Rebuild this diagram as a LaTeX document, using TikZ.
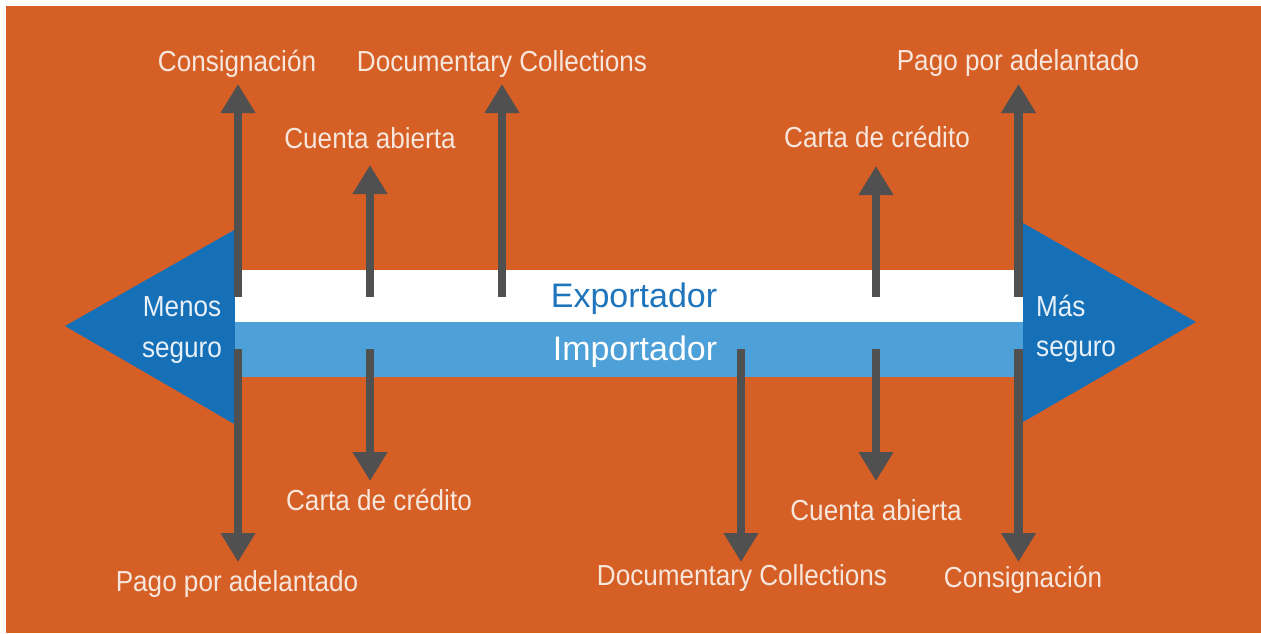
\documentclass[tikz,border=0pt]{standalone}
\usepackage{fontspec}
\setmainfont{Liberation Sans}
\newfontfamily\condfont[FakeStretch=0.9]{Liberation Sans}
\usetikzlibrary{arrows.meta}
\definecolor{bgorange}{HTML}{D65F26}
\definecolor{darkblue}{HTML}{1570B8}
\definecolor{lightblue}{HTML}{4EA0D8}
\definecolor{arrowgrey}{HTML}{505050}
\definecolor{labeltext}{HTML}{F7E6DC}
\definecolor{sidetext}{HTML}{E8F0F8}
\definecolor{exptext}{HTML}{1F75BC}
\begin{document}
\begin{tikzpicture}[x=1pt,y=-1pt,
  lbl/.style={text=labeltext, font=\condfont\fontsize{29}{34}\selectfont, inner sep=0pt, anchor=base},
  sidelbl/.style={text=sidetext, font=\condfont\fontsize{29}{34}\selectfont, inner sep=0pt, anchor=base},
  barlbl/.style={font=\fontsize{34}{40}\selectfont, inner sep=0pt, anchor=base},
  arr/.style={draw=arrowgrey, line width=8.5pt, -{Triangle[width=33pt,length=29pt]}},
  bar/.style={draw=none, minimum width=788pt, inner sep=0pt, outer sep=0pt}
]
\useasboundingbox (0,0) rectangle (1261,633);
\fill[white] (0,0) rectangle (1261,633);
\fill[bgorange] (6,6) rectangle (1261,633);

% side triangles
\fill[darkblue] (65,326) -- (236,229) -- (236,425) -- cycle;
\fill[darkblue] (1023,223) -- (1196,322) -- (1023,422) -- cycle;

% bars
\node[bar, fill=white, minimum height=52pt] (expbar) at (629,296) {};
\node[bar, fill=lightblue, minimum height=55pt] (impbar) at (629,349.5) {};
\node[barlbl, text=exptext] (exp) at (634,307) {Exportador};
\node[barlbl, text=white] (imp) at (635,360) {Importador};

% side labels
\node[sidelbl] (menos) at (182,316) {Menos};
\node[sidelbl] (seg1) at (182,357) {seguro};
\node[sidelbl, anchor=base west] (mas) at (1036,316) {Más};
\node[sidelbl, anchor=base west] (seg2) at (1036,356) {seguro};

% arrow endpoints (top)
\coordinate (t1s) at (238,297);   \coordinate (t1e) at (238,84);
\coordinate (t2s) at (370,297);   \coordinate (t2e) at (370,165);
\coordinate (t3s) at (502,297);   \coordinate (t3e) at (502,84);
\coordinate (t4s) at (876,297);   \coordinate (t4e) at (876,166);
\coordinate (t5s) at (1018.5,297); \coordinate (t5e) at (1018.5,84);
% arrow endpoints (bottom)
\coordinate (b1s) at (238,349);   \coordinate (b1e) at (238,562);
\coordinate (b2s) at (370,349);   \coordinate (b2e) at (370,481);
\coordinate (b3s) at (741,349);   \coordinate (b3e) at (741,562);
\coordinate (b4s) at (876,349);   \coordinate (b4e) at (876,481);
\coordinate (b5s) at (1018.5,349); \coordinate (b5e) at (1018.5,562);

\foreach \a in {t1,t2,t3,t4,t5,b1,b2,b3,b4,b5}
  \draw[arr] (\a s) -- (\a e);

% top labels
\node[lbl] (consT) at (237,71) {Consignación};
\node[lbl] (docT) at (502,71) {Documentary Collections};
\node[lbl] (pagoT) at (1018,70) {Pago por adelantado};
\node[lbl] (cuentaT) at (370,148) {Cuenta abierta};
\node[lbl] (cartaT) at (877,147) {Carta de crédito};
% bottom labels
\node[lbl] (cartaB) at (379,510) {Carta de crédito};
\node[lbl] (cuentaB) at (876,520) {Cuenta abierta};
\node[lbl] (pagoB) at (237,591) {Pago por adelantado};
\node[lbl] (docB) at (742,585) {Documentary Collections};
\node[lbl] (consB) at (1023,587) {Consignación};
\end{tikzpicture}
\end{document}
